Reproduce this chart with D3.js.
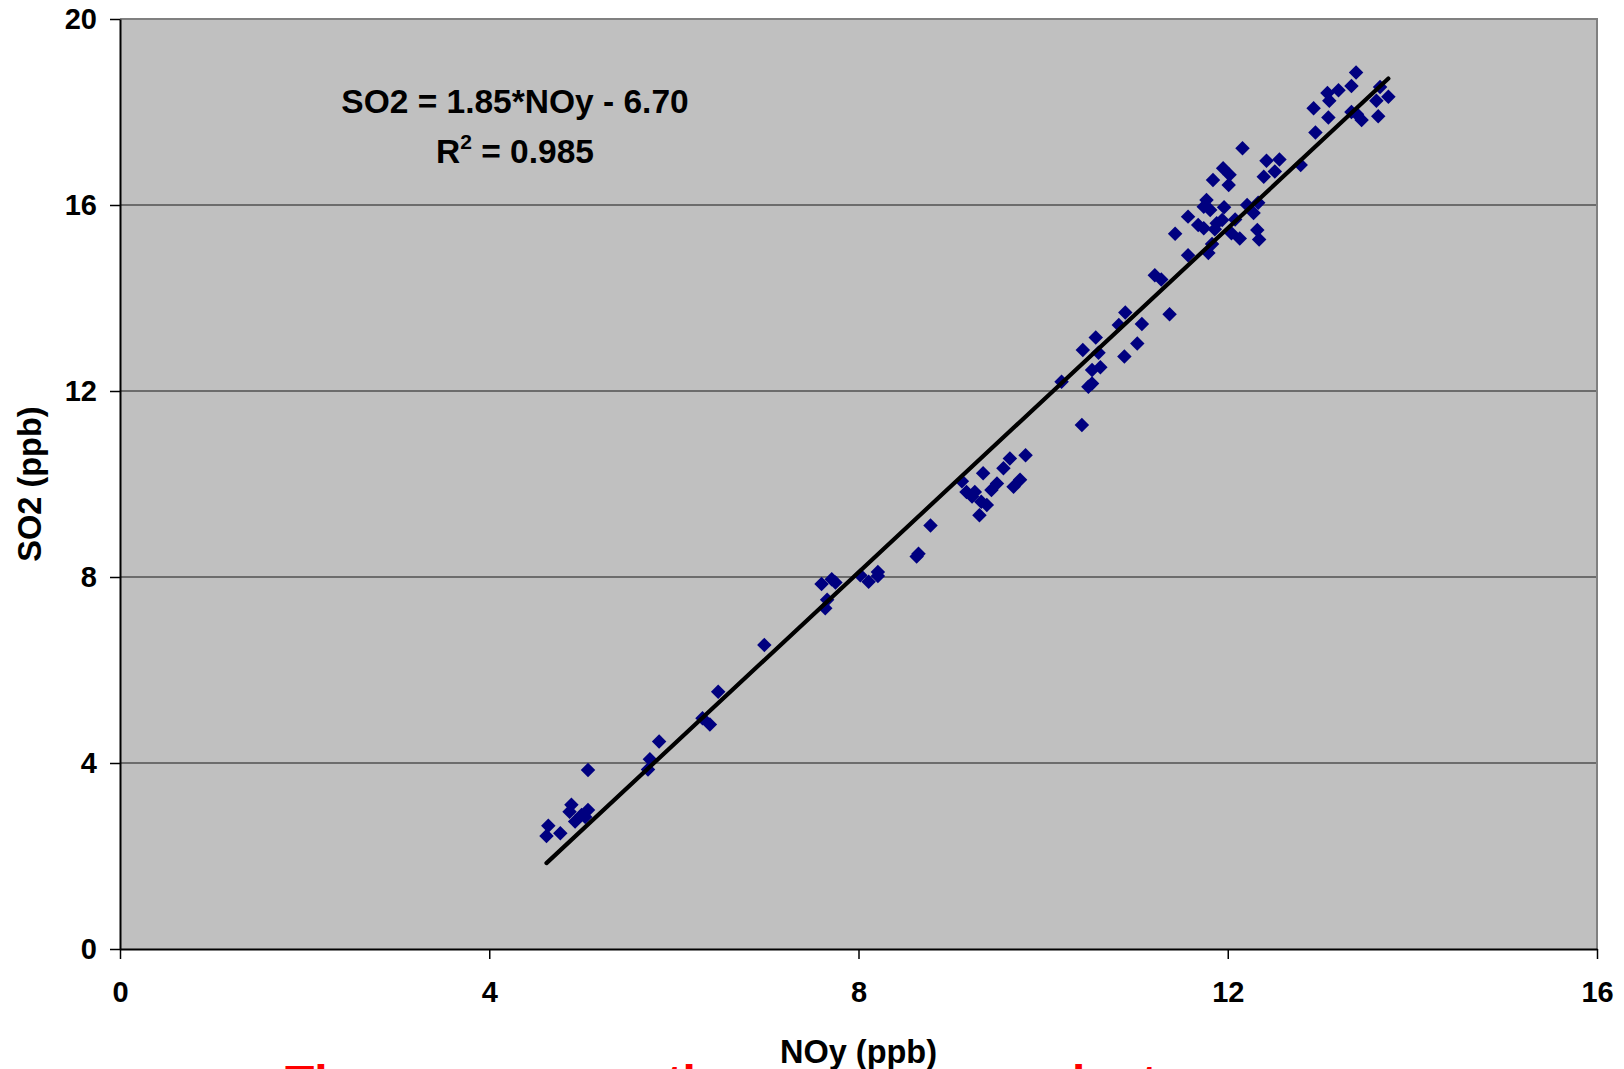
<!DOCTYPE html>
<html>
<head>
<meta charset="utf-8">
<script src="https://cdn.jsdelivr.net/npm/d3@7"></script>
<style>
  body { margin: 0; background: #fff; }
  text { font-family: "Liberation Sans", Arial, sans-serif; font-weight: bold; }
</style>
</head>
<body>
<div id="chart"></div>
<script>
// Chart size and plot area
const width = 1624;
const height = 1069;
const margin = {left: 120, right: 27, top: 19, bottom: 120};

// NOy / SO2 pairs (ppb)
const noy = [4.64, 4.62, 4.77, 4.89, 4.87, 4.93, 5.00, 5.07, 5.04, 5.07,
  5.74, 5.72, 5.84, 6.31, 6.39, 6.48, 6.98, 7.60, 7.71, 7.75,
  7.66, 7.64, 8.02, 8.11, 8.21, 8.21, 8.63, 8.65, 8.78, 9.12,
  9.17, 9.26, 9.23, 9.35, 9.33, 9.39, 9.31, 9.57, 9.64, 9.81,
  9.50, 9.44, 9.75, 9.68, 10.20, 10.42, 10.49, 10.53, 10.53, 10.62,
  10.60, 10.43, 10.57, 10.82, 10.89, 10.88, 11.02, 11.07, 11.37, 11.21,
  11.28, 11.57, 11.43, 11.79, 11.83, 11.57, 11.68, 11.74, 11.77, 11.74,
  11.81, 11.84, 11.95, 12.02, 12.01, 11.96, 11.88, 11.94, 11.86, 12.04,
  12.08, 12.13, 12.21, 12.28, 12.33, 12.32, 12.34, 12.16, 12.39, 12.42,
  12.56, 12.51, 12.79, 12.95, 12.93, 13.09, 13.10, 13.08, 13.20, 13.34,
  13.39, 13.34, 13.40, 13.45, 13.65, 13.74, 13.61, 13.63];
const so2 = [2.65, 2.43, 2.49, 3.10, 2.95, 2.74, 2.88, 2.99, 2.84, 3.85,
  4.08, 3.86, 4.46, 4.96, 4.83, 5.53, 6.54, 7.85, 7.95, 7.88,
  7.51, 7.33, 8.04, 7.90, 8.11, 8.02, 8.44, 8.50, 9.11, 10.06,
  9.83, 9.83, 9.73, 10.23, 9.62, 9.55, 9.33, 10.34, 10.55, 10.62,
  10.01, 9.87, 10.09, 9.94, 12.20, 11.27, 12.09, 12.16, 12.45, 12.51,
  12.82, 12.88, 13.15, 13.42, 13.69, 12.74, 13.02, 13.44, 13.65, 14.49,
  14.40, 14.92, 15.38, 14.97, 15.16, 15.75, 15.57, 15.50, 16.11, 15.96,
  15.89, 16.54, 16.79, 16.65, 16.43, 15.95, 15.61, 15.68, 15.48, 15.39,
  15.69, 15.28, 16.00, 15.83, 16.05, 15.46, 15.26, 17.22, 16.61, 16.95,
  16.98, 16.72, 16.86, 17.56, 18.08, 17.88, 18.24, 18.41, 18.47, 18.56,
  18.85, 18.00, 17.95, 17.83, 18.54, 18.33, 18.24, 17.91];

// Regression shown on the chart
const slope = 1.85;
const intercept = -6.70;
const eqLines = ["SO2 = 1.85*NOy - 6.70", "R", "= 0.985"];

const xTicks = [0, 4, 8, 12, 16];
const yTicks = [0, 4, 8, 12, 16, 20];

const data = noy.map((d, i) => ({x: d, y: so2[i]}));

const svg = d3.select("#chart")
  .append("svg")
  .attr("width", width)
  .attr("height", height);

const x = d3.scaleLinear().domain([0, 16]).range([margin.left, width - margin.right]);
const y = d3.scaleLinear().domain([0, 20]).range([height - margin.bottom, margin.top]);

// plot background
svg.append("rect")
  .attr("x", x(0)).attr("y", y(20))
  .attr("width", x(16) - x(0)).attr("height", y(0) - y(20))
  .attr("fill", "#c0c0c0");

// gridlines
svg.append("g")
  .selectAll("line")
  .data(yTicks.filter(t => t > 0 && t < 20))
  .join("line")
    .attr("x1", x(0)).attr("x2", x(16))
    .attr("y1", d => y(d)).attr("y2", d => y(d))
    .attr("stroke", "#505050").attr("stroke-width", 1.3);

// top and right border
svg.append("path")
  .attr("d", `M${x(0)},${y(20)}H${x(16)}V${y(0)}`)
  .attr("fill", "none").attr("stroke", "#808080").attr("stroke-width", 2);

// axes
const yAxis = svg.append("g")
  .attr("transform", `translate(${x(0)},0)`)
  .call(d3.axisLeft(y).tickValues(yTicks).tickSize(10).tickSizeOuter(0).tickPadding(13));
const xAxis = svg.append("g")
  .attr("transform", `translate(0,${y(0)})`)
  .call(d3.axisBottom(x).tickValues(xTicks).tickSize(10).tickSizeOuter(0).tickPadding(22));

[xAxis, yAxis].forEach(g => {
  g.select(".domain").attr("stroke", "#000").attr("stroke-width", 2);
  g.selectAll(".tick line").attr("stroke", "#000").attr("stroke-width", 1.5);
  g.selectAll(".tick text").attr("font-size", "29px").attr("fill", "#000")
    .attr("font-family", "Liberation Sans, Arial, sans-serif").attr("font-weight", "bold");
});

// points
const diamond = d3.symbol().type(d3.symbolSquare).size(105);
svg.append("g")
  .selectAll("path")
  .data(data)
  .join("path")
    .attr("d", diamond)
    .attr("transform", d => `translate(${x(d.x)},${y(d.y)}) rotate(45)`)
    .attr("fill", "#000080");

// trend line over the data range
const xExt = d3.extent(noy);
svg.append("line")
  .attr("x1", x(xExt[0])).attr("y1", y(slope * xExt[0] + intercept))
  .attr("x2", x(xExt[1])).attr("y2", y(slope * xExt[1] + intercept))
  .attr("stroke", "#000").attr("stroke-width", 4.2).attr("stroke-linecap", "round");

// equation text
svg.append("text")
  .attr("x", 515).attr("y", 113)
  .attr("text-anchor", "middle").attr("font-size", "33.5px")
  .text(eqLines[0]);
const r2 = svg.append("text")
  .attr("x", 515).attr("y", 163)
  .attr("text-anchor", "middle").attr("font-size", "33.5px");
r2.append("tspan").text(eqLines[1]);
r2.append("tspan").attr("font-size", "21px").attr("dy", -14).text("2");
r2.append("tspan").attr("dy", 14).text(" " + eqLines[2]);

// axis titles
svg.append("text")
  .attr("x", (x(0) + x(16)) / 2).attr("y", 1063)
  .attr("text-anchor", "middle").attr("font-size", "32.5px")
  .text("NOy (ppb)");
svg.append("text")
  .attr("transform", `translate(41,${(y(0) + y(20)) / 2}) rotate(-90)`)
  .attr("text-anchor", "middle").attr("font-size", "32.5px")
  .text("SO2 (ppb)");

// red caption, cut off by the bottom of the page
svg.append("text")
  .attr("x", 285).attr("y", 1099)
  .attr("font-family", "Liberation Serif, Times New Roman, serif")
  .attr("font-size", "48px").attr("fill", "#ff0000")
  .text("The sources are the same power plants");
</script>
</body>
</html>
